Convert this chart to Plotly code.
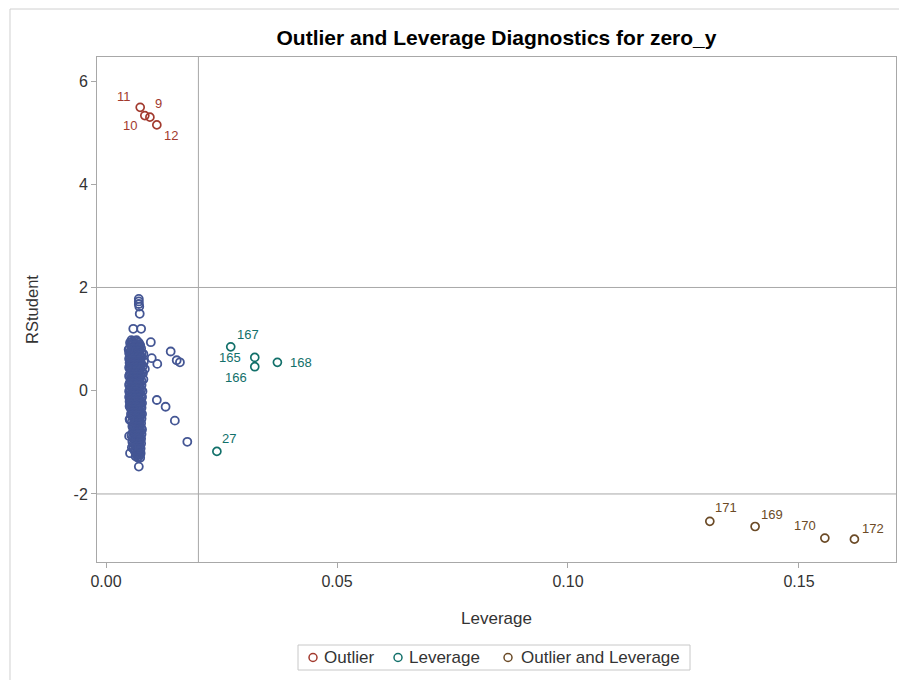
import plotly.graph_objects as go

# ---------------- data ----------------
# ordinary observations (blue): dense cluster, rows of (RStudent, leverages)
cluster_rows = [
    (0.98, [0.0055, 0.0066]),
    (0.95, [0.0057, 0.0068]),
    (0.93, [0.0052, 0.0060, 0.0071]),
    (0.90, [0.0056, 0.0066, 0.0072]),
    (0.88, [0.0054, 0.0063, 0.0074]),
    (0.85, [0.0055, 0.0064, 0.0072]),
    (0.82, [0.0051, 0.0059, 0.0068, 0.0076]),
    (0.79, [0.0056, 0.0065, 0.0073]),
    (0.76, [0.0053, 0.0062, 0.0070]),
    (0.73, [0.0050, 0.0058, 0.0067, 0.0077]),
    (0.71, [0.0055, 0.0064, 0.0073, 0.0081]),
    (0.68, [0.0056, 0.0065, 0.0073]),
    (0.65, [0.0052, 0.0060, 0.0068, 0.0077]),
    (0.62, [0.0050, 0.0058, 0.0066, 0.0075]),
    (0.59, [0.0054, 0.0062, 0.0071]),
    (0.56, [0.0056, 0.0064, 0.0073, 0.0082]),
    (0.54, [0.0051, 0.0059, 0.0067, 0.0075]),
    (0.51, [0.0053, 0.0061, 0.0069, 0.0077]),
    (0.48, [0.0055, 0.0063, 0.0072, 0.0080]),
    (0.45, [0.0050, 0.0058, 0.0066, 0.0075]),
    (0.42, [0.0052, 0.0061, 0.0069]),
    (0.40, [0.0056, 0.0065, 0.0074]),
    (0.37, [0.0054, 0.0062, 0.0071, 0.0078]),
    (0.34, [0.0053, 0.0063, 0.0070, 0.0080]),
    (0.31, [0.0051, 0.0059, 0.0067, 0.0075]),
    (0.28, [0.0050, 0.0058, 0.0066, 0.0075]),
    (0.25, [0.0055, 0.0064, 0.0072]),
    (0.22, [0.0056, 0.0065, 0.0073, 0.0081]),
    (0.19, [0.0053, 0.0061, 0.0069, 0.0077]),
    (0.16, [0.0054, 0.0063, 0.0071]),
    (0.14, [0.0051, 0.0059, 0.0067, 0.0074]),
    (0.11, [0.0050, 0.0057, 0.0065, 0.0077]),
    (0.08, [0.0054, 0.0063, 0.0071]),
    (0.05, [0.0056, 0.0066, 0.0073]),
    (0.02, [0.0052, 0.0060, 0.0068, 0.0076]),
    (-0.01, [0.0050, 0.0058, 0.0065, 0.0079]),
    (-0.04, [0.0055, 0.0063, 0.0071]),
    (-0.06, [0.0057, 0.0066, 0.0073]),
    (-0.09, [0.0052, 0.0061, 0.0069, 0.0076]),
    (-0.12, [0.0050, 0.0058, 0.0065, 0.0078]),
    (-0.15, [0.0054, 0.0062, 0.0070]),
    (-0.18, [0.0056, 0.0065, 0.0073]),
    (-0.21, [0.0051, 0.0060, 0.0068, 0.0075]),
    (-0.24, [0.0053, 0.0058, 0.0066, 0.0078]),
    (-0.27, [0.0055, 0.0063, 0.0072]),
    (-0.30, [0.0051, 0.0059, 0.0067, 0.0075]),
    (-0.33, [0.0053, 0.0061, 0.0069, 0.0077]),
    (-0.36, [0.0055, 0.0063, 0.0071]),
    (-0.39, [0.0056, 0.0065, 0.0073]),
    (-0.42, [0.0058, 0.0067, 0.0075]),
    (-0.45, [0.0054, 0.0062, 0.0070, 0.0078]),
    (-0.48, [0.0056, 0.0064, 0.0072]),
    (-0.51, [0.0058, 0.0066, 0.0074]),
    (-0.54, [0.0061, 0.0069, 0.0077]),
    (-0.57, [0.0052, 0.0063, 0.0071]),
    (-0.60, [0.0056, 0.0065, 0.0073]),
    (-0.63, [0.0060, 0.0068, 0.0076]),
    (-0.66, [0.0063, 0.0071]),
    (-0.69, [0.0057, 0.0065, 0.0073]),
    (-0.72, [0.0059, 0.0067, 0.0076]),
    (-0.75, [0.0061, 0.0070, 0.0078]),
    (-0.78, [0.0064, 0.0072]),
    (-0.81, [0.0058, 0.0067, 0.0074]),
    (-0.84, [0.0061, 0.0069, 0.0077]),
    (-0.87, [0.0055, 0.0063, 0.0071]),
    (-0.90, [0.0058, 0.0066, 0.0074]),
    (-0.93, [0.0060, 0.0069, 0.0076]),
    (-0.96, [0.0063, 0.0071]),
    (-0.99, [0.0057, 0.0066, 0.0073]),
    (-1.02, [0.0060, 0.0068, 0.0076]),
    (-1.05, [0.0062, 0.0070]),
    (-1.08, [0.0065, 0.0073]),
    (-1.12, [0.0059, 0.0068, 0.0075]),
    (-1.15, [0.0062, 0.0070]),
    (-1.18, [0.0063, 0.0071]),
    (-1.21, [0.0067, 0.0075]),
    (-1.24, [0.0066, 0.0073]),
    (-1.27, [0.0064, 0.0071]),
    (-1.30, [0.0069, 0.0074]),
]
# scattered ordinary observations outside the dense core
stray_lev = [0.0071, 0.0071, 0.0071, 0.0072, 0.0073, 0.0059, 0.0076, 0.0097, 0.0140, 0.0153,
             0.0160, 0.0111, 0.0099, 0.0084, 0.0110, 0.0129, 0.0149, 0.0176, 0.0071, 0.0052,
             0.0056, 0.0050, 0.0051, 0.0049]
stray_rstud = [1.78, 1.73, 1.68, 1.63, 1.49, 1.20, 1.20, 0.94, 0.76, 0.59,
               0.55, 0.52, 0.63, 0.42, -0.18, -0.31, -0.58, -0.99, -1.47, -1.21,
               -1.10, -0.88, -0.55, 0.80]

# outliers (red)
out_lev = [0.0074, 0.0084, 0.0095, 0.0110]
out_rstud = [5.49, 5.33, 5.30, 5.15]
out_lab = ["11", "10", "9", "12"]

# leverage points (teal)
lev_lev = [0.0270, 0.0322, 0.0322, 0.0371, 0.0240]
lev_rstud = [0.85, 0.645, 0.465, 0.55, -1.175]
lev_lab = ["167", "165", "166", "168", "27"]

# outlier and leverage (brown)
ol_lev = [0.1307, 0.1405, 0.1556, 0.1620]
ol_rstud = [-2.53, -2.63, -2.855, -2.875]
ol_lab = ["171", "169", "170", "172"]

group_names = ["Outlier", "Leverage", "Outlier and Leverage"]

x_ticks = [0.0, 0.05, 0.10, 0.15]
x_tick_text = ["0.00", "0.05", "0.10", "0.15"]
y_ticks = [-2, 0, 2, 4, 6]
y_tick_text = ["-2", "0", "2", "4", "6"]

lev_cut = 0.02
rstud_cut = [-2, 2]

# ---------------- build ----------------
normal_lev = [lv for r, levs in cluster_rows for lv in levs] + stray_lev
normal_rstud = [r for r, levs in cluster_rows for lv in levs] + stray_rstud

BLUE = "#445694"
RED = "#A23A2E"
TEAL = "#12706A"
BROWN = "#6B4A26"
FONT = "Liberation Sans, Arial, sans-serif"
FRAME = "#A8A8A8"

# label offsets in pixels (dx right, dy up)
out_off = [(-16, 11), (-15, -10), (9, 14), (14, -11)]
lev_off = [(17, 12), (-25, 0), (-19, -11), (24, 0), (12, 13)]
ol_off = [(16, 14), (17, 12), (-20, 13), (19, 11)]

def marker(c, lw=1.7):
    return dict(symbol="circle-open", size=8, color=c, line=dict(width=lw, color=c))

fig = go.Figure()
fig.add_trace(go.Scatter(x=normal_lev, y=normal_rstud, mode="markers",
                         marker=marker(BLUE, 1.8), showlegend=False))
for xs, ys, col, nm in [(out_lev, out_rstud, RED, group_names[0]),
                        (lev_lev, lev_rstud, TEAL, group_names[1]),
                        (ol_lev, ol_rstud, BROWN, group_names[2])]:
    fig.add_trace(go.Scatter(x=xs, y=ys, mode="markers", marker=marker(col),
                             name=nm, showlegend=False))

annotations = []
for xs, ys, labs, offs, col in [
    (out_lev, out_rstud, out_lab, out_off, RED),
    (lev_lev, lev_rstud, lev_lab, lev_off, TEAL),
    (ol_lev, ol_rstud, ol_lab, ol_off, BROWN),
]:
    for xv, yv, t, (dx, dy) in zip(xs, ys, labs, offs):
        annotations.append(dict(x=xv, y=yv, text=t, showarrow=False,
                                xshift=dx, yshift=dy,
                                font=dict(family=FONT, size=13, color=col)))

shapes = [
    dict(type="line", xref="x", yref="paper", x0=lev_cut, x1=lev_cut, y0=0, y1=1,
         line=dict(color=FRAME, width=1)),
]
for rc in rstud_cut:
    shapes.append(dict(type="line", xref="paper", yref="y", x0=0, x1=1, y0=rc, y1=rc,
                       line=dict(color=FRAME, width=1)))
# outer output frame
shapes.append(dict(type="line", xref="paper", yref="paper", x0=-0.1089, x1=1.01,
                   y0=1.095, y1=1.095, line=dict(color="#D0D0D0", width=1)))
shapes.append(dict(type="line", xref="paper", yref="paper", x0=-0.1089, x1=-0.1089,
                   y0=1.095, y1=-0.25, line=dict(color="#D0D0D0", width=1)))

# custom compact legend (paper coordinates of plot area: 799 x 505 px)
PW, PH = 799.0, 505.0
def px_x(p):
    return (p - 97) / PW
def px_y(p):
    return (562 - p) / PH

shapes.append(dict(type="rect", xref="paper", yref="paper",
                   x0=px_x(298), x1=px_x(690), y0=px_y(645), y1=px_y(670),
                   line=dict(color="#C8C8C8", width=1), fillcolor="white"))
leg_sym_x = [313, 398, 508]
leg_txt_x = [322, 407, 519]
for sx, tx, nm, col in zip(leg_sym_x, leg_txt_x, group_names, [RED, TEAL, BROWN]):
    shapes.append(dict(type="circle", xref="paper", yref="paper",
                       xsizemode="pixel", ysizemode="pixel",
                       xanchor=px_x(sx), yanchor=px_y(657.5),
                       x0=-4, x1=4, y0=-4, y1=4,
                       line=dict(color=col, width=1.5)))
    annotations.append(dict(xref="paper", yref="paper", x=px_x(tx), y=px_y(657.5),
                            xanchor="left", yanchor="middle", showarrow=False,
                            text=nm, font=dict(family=FONT, size=17, color="#333333")))

fig.update_layout(
    width=899, height=680,
    margin=dict(l=97, r=3, t=57, b=118),
    paper_bgcolor="white", plot_bgcolor="white",
    font=dict(family=FONT, size=16, color="#333333"),
    title=dict(text="<b>Outlier and Leverage Diagnostics for zero_y</b>",
               x=0.5, xanchor="center", xref="paper", y=0.944, yanchor="middle",
               font=dict(family=FONT, size=21, color="black")),
    xaxis=dict(range=[-0.00195, 0.1710], tickvals=x_ticks, ticktext=x_tick_text,
               showgrid=False, zeroline=False, showline=True, linecolor=FRAME,
               mirror=True, ticks="outside", ticklen=5, tickcolor=FRAME,
               tickfont=dict(size=16, color="#333333"),
               title=dict(text="Leverage", font=dict(size=17, color="#333333"), standoff=22)),
    yaxis=dict(range=[-3.318, 6.465], tickvals=y_ticks, ticktext=y_tick_text,
               showgrid=False, zeroline=False, showline=True, linecolor=FRAME,
               mirror=True, ticks="outside", ticklen=5, tickcolor=FRAME,
               tickfont=dict(size=16, color="#333333"),
               title=dict(text="RStudent", font=dict(size=16.5, color="#333333"), standoff=30)),
    showlegend=False,
    annotations=annotations,
    shapes=shapes,
)

fig.write_html("out.html")
